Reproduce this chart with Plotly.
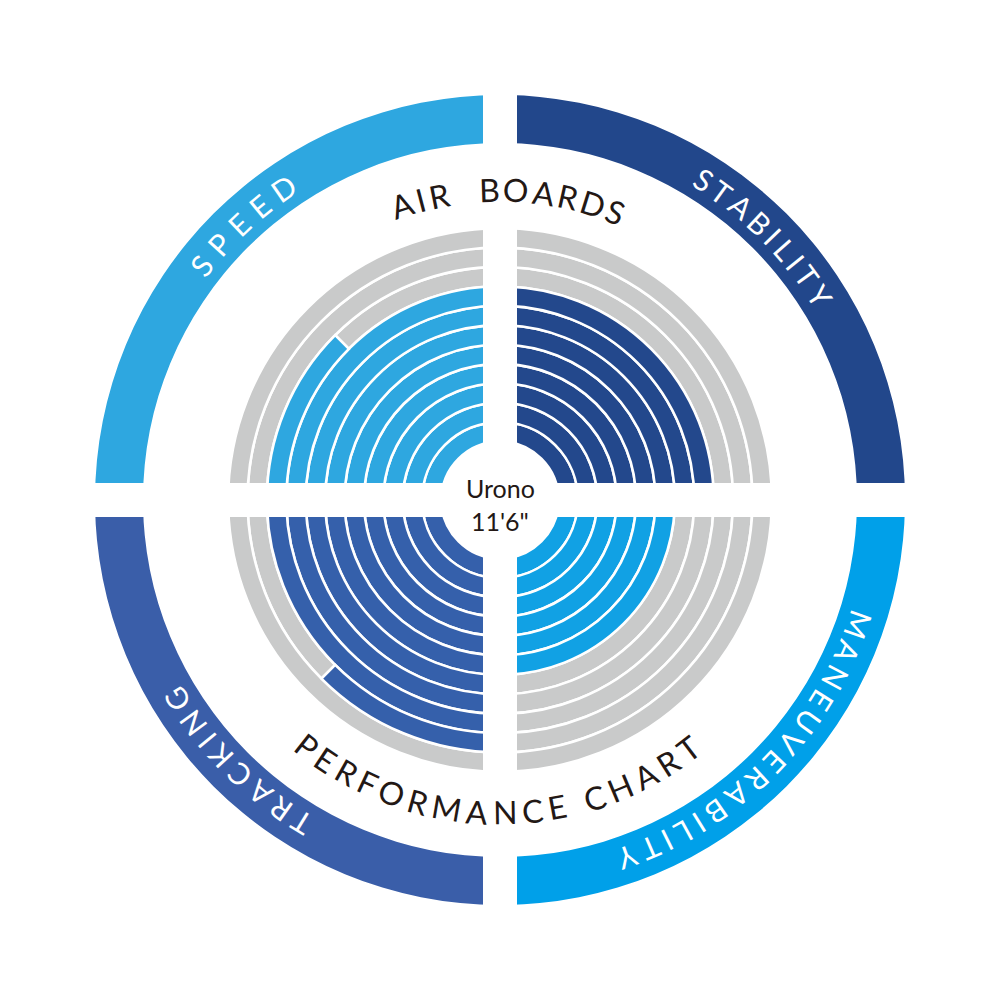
import math
import plotly.graph_objects as go

# ---------------- data ----------------
categories = ["SPEED", "STABILITY", "MANEUVERABILITY", "TRACKING"]
scores = [8.5, 8.0, 6.0, 9.5]          # filled rings out of max_score
max_score = 11
title_top = "AIR  BOARDS"
title_bottom = "PERFORMANCE CHART"
model_name = "Urono"
model_size = "11'6\""

# ---------------- styles ----------------
colors_outer = ["#2ea7e0", "#22478b", "#00a0e9", "#3a5ea9"]
colors_inner = ["#2ea7e0", "#23488c", "#11a1e4", "#3560ab"]
gray = "#c9caca"
text_dark = "#231815"
FONT = "Lato"

# geometry (radial unit = 1 px)
quad_start = [180, 90, 0, 270]   # each quadrant fills clockwise from here
R0, PITCH, LINE_W = 58.5, 19.4, 2.6
OUT_IN, OUT_OUT = 357, 405
GAP = 34

fig = go.Figure()

# outer label ring
fig.add_trace(go.Barpolar(
    r=[OUT_OUT - OUT_IN] * len(categories),
    base=[OUT_IN] * len(categories),
    theta=[s - 45 for s in quad_start],
    width=[90] * len(categories),
    marker=dict(color=colors_outer, line=dict(width=0)),
    hoverinfo="skip", showlegend=False,
))

# score rings
for q, cat in enumerate(categories):
    s = quad_start[q]
    cth, cw, cb = [], [], []
    gth, gw, gb = [], [], []
    for i in range(max_score):
        f = min(max(scores[q] - i, 0.0), 1.0)
        base = R0 + i * PITCH
        if f > 0:
            cth.append(s - f * 90 / 2); cw.append(f * 90); cb.append(base)
        if f < 1:
            gth.append(s - f * 90 - (1 - f) * 90 / 2); gw.append((1 - f) * 90); gb.append(base)
    if gth:
        fig.add_trace(go.Barpolar(
            r=[PITCH] * len(gth), base=gb, theta=gth, width=gw,
            marker=dict(color=gray, line=dict(color="white", width=LINE_W)),
            hoverinfo="skip", showlegend=False))
    fig.add_trace(go.Barpolar(
        r=[PITCH] * len(cth), base=cb, theta=cth, width=cw,
        marker=dict(color=colors_inner[q], line=dict(color="white", width=LINE_W)),
        name=cat, hoverinfo="skip", showlegend=False))

# ---------------- curved text ----------------
CW = {"A": .68, "B": .62, "C": .66, "D": .72, "E": .56, "F": .53, "G": .72, "H": .74,
      "I": .28, "K": .64, "L": .5, "M": .88, "N": .75, "O": .78, "P": .6, "R": .63,
      "S": .53, "T": .58, "U": .72, "V": .66, "Y": .62, " ": .3}


def arc_text(text, a_first, a_last, r, size, color, outward=True):
    widths = [CW.get(ch, .6) * size for ch in text]
    n = len(text)
    base_len = sum((widths[k] + widths[k + 1]) / 2 for k in range(n - 1))
    total = abs(a_last - a_first) * math.pi / 180 * r
    track = (total - base_len) / (n - 1)
    sign = -1 if a_last < a_first else 1
    pos = 0.0
    for k, ch in enumerate(text):
        if k > 0:
            pos += (widths[k - 1] + widths[k]) / 2 + track
        if ch == " ":
            continue
        ang = a_first + sign * pos / r * 180 / math.pi
        rad = math.radians(ang)
        rot = (90 - ang) if outward else (-90 - ang)
        rot = (rot + 180) % 360 - 180
        fig.add_annotation(
            x=0.5 + r * math.cos(rad) / 1000, y=0.5 + r * math.sin(rad) / 1000,
            xref="paper", yref="paper", text=ch, textangle=rot, showarrow=False,
            xanchor="center", yanchor="middle",
            font=dict(family=FONT, size=size, color=color))


label_arcs = [(141.8, 124.8), (57.6, 32.5), (-19.2, -70.4), (238.4, 211.6)]
for cat, (a0, a1) in zip(categories, label_arcs):
    arc_text(cat, a0, a1, 380, 30, "white", outward=True)

arc_text(title_top, 108.3, 68.2, 311, 32, text_dark, outward=True)
arc_text(title_bottom, 231.8, 307.1, 312, 32, text_dark, outward=False)

fig.add_annotation(x=0.5, y=0.512, xref="paper", yref="paper", text=model_name,
                   showarrow=False, font=dict(family=FONT, size=25, color=text_dark))
fig.add_annotation(x=0.5, y=0.479, xref="paper", yref="paper", text=model_size,
                   showarrow=False, font=dict(family=FONT, size=25, color=text_dark))

# white cross separating the quadrants
fig.add_shape(type="rect", xref="paper", yref="paper", x0=0.5 - GAP / 2000, x1=0.5 + GAP / 2000,
              y0=0, y1=1, fillcolor="white", line=dict(width=0), layer="above")
fig.add_shape(type="rect", xref="paper", yref="paper", y0=0.5 - GAP / 2000, y1=0.5 + GAP / 2000,
              x0=0, x1=1, fillcolor="white", line=dict(width=0), layer="above")

fig.update_layout(
    width=1000, height=1000, margin=dict(l=0, r=0, t=0, b=0),
    paper_bgcolor="white", plot_bgcolor="white", showlegend=False,
    polar=dict(
        domain=dict(x=[0, 1], y=[0, 1]), bgcolor="white", barmode="overlay", hole=0,
        radialaxis=dict(range=[0, 500], visible=False),
        angularaxis=dict(visible=False, direction="counterclockwise", rotation=0),
    ),
)

fig.write_html("out.html", config={"displayModeBar": False},
               post_script="document.body.style.margin='0';")
